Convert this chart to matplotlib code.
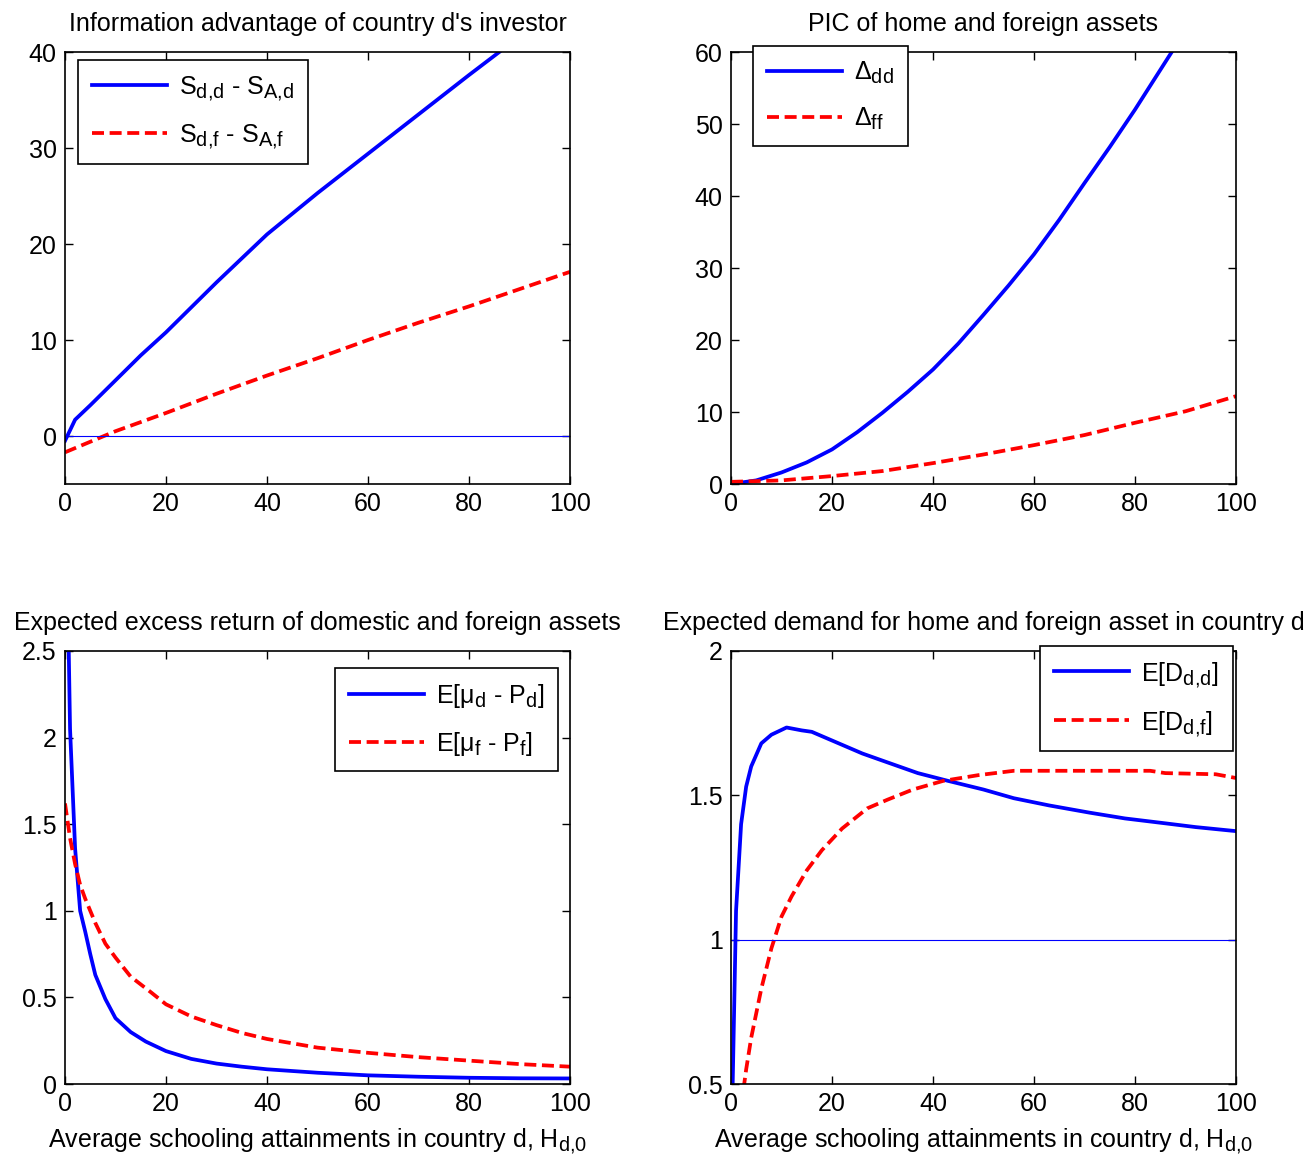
import numpy as np
import matplotlib
matplotlib.use("Agg")
import matplotlib.pyplot as plt
import matplotlib._mathtext as mt

# MATLAB subscripts are a bit larger than mathtext's default
mt.SHRINK_FACTOR = 0.8

plt.rcParams['font.family'] = ['Liberation Sans', 'DejaVu Sans']
plt.rcParams['mathtext.fontset'] = 'custom'
plt.rcParams['mathtext.rm'] = 'Liberation Sans'
plt.rcParams['mathtext.it'] = 'Liberation Sans'
plt.rcParams['mathtext.default'] = 'regular'
plt.rcParams['font.size'] = 18

### data ###
# information advantage
info_x_dd = [0, 2, 5, 10, 15, 20, 30, 40, 50, 60, 70, 80, 86, 100]
info_dd = [-0.5, 1.7, 3.2, 5.8, 8.4, 10.8, 16.0, 21.0, 25.3, 29.4, 33.5, 37.6, 40.0, 46.0]
info_x_df = [0, 10, 20, 30, 40, 50, 60, 70, 80, 90, 100]
info_df = [-1.7, 0.5, 2.4, 4.4, 6.3, 8.1, 10.0, 11.8, 13.5, 15.3, 17.1]

# PIC
pic_x = [0, 5, 10, 15, 20, 25, 30, 35, 40, 45, 50, 55, 60, 65, 70, 75, 80, 85, 90, 100]
pic_dd = [0, 0.5, 1.6, 3.0, 4.8, 7.2, 9.9, 12.8, 15.9, 19.5, 23.5, 27.6, 31.9,
          36.7, 41.8, 46.8, 52.0, 57.5, 63.0, 75.0]
pic_x_ff = [0, 10, 20, 30, 40, 50, 60, 70, 80, 90, 100]
pic_ff = [0.3, 0.5, 1.1, 1.8, 2.9, 4.1, 5.4, 6.8, 8.5, 10.1, 12.2]

# expected excess return
ret_x_d = [0, 1, 2, 3, 4, 5, 6, 8, 10, 13, 16, 20, 25, 30, 35, 40, 50, 60, 70, 80, 90, 100]
ret_d = [3.8, 2.05, 1.36, 1.0, 0.88, 0.75, 0.63, 0.49, 0.38, 0.30, 0.245, 0.19,
         0.145, 0.118, 0.10, 0.085, 0.065, 0.05, 0.042, 0.036, 0.033, 0.032]
ret_x_f = [0, 1, 2, 3, 4, 6, 8, 10, 13, 17, 20, 25, 30, 35, 40, 50, 60, 70, 80, 90, 100]
ret_f = [1.62, 1.42, 1.27, 1.15, 1.07, 0.93, 0.81, 0.73, 0.62, 0.53, 0.46, 0.39,
         0.34, 0.295, 0.26, 0.21, 0.18, 0.155, 0.135, 0.115, 0.1]

# expected demand
dem_x_d = [0, 1, 2, 3, 4, 6, 8, 11, 14, 16, 20, 26, 31, 37, 43, 50, 56, 63, 71,
           78, 86, 92, 100]
dem_d = [0.2, 1.1, 1.4, 1.53, 1.6, 1.68, 1.71, 1.735, 1.725, 1.72, 1.69, 1.645,
         1.614, 1.577, 1.55, 1.52, 1.49, 1.465, 1.44, 1.42, 1.403, 1.39, 1.376]
dem_x_f = [0, 2, 3, 4, 6, 8, 10, 12, 15, 18, 22, 27, 31, 36, 42, 49, 56, 67, 83,
           86, 96, 100]
dem_f = [-0.2, 0.42, 0.55, 0.66, 0.83, 0.97, 1.08, 1.15, 1.24, 1.31, 1.385, 1.455,
         1.485, 1.52, 1.55, 1.57, 1.585, 1.585, 1.585, 1.577, 1.573, 1.56]

xlabel = "Average schooling attainments in country d, H$_{d{,}0}$"

fig = plt.figure(figsize=(13.09, 11.59), dpi=100)
W, H = 1309., 1159.

def make_ax(l, t, r, b):
    return fig.add_axes([l / W, 1 - b / H, (r - l) / W, (b - t) / H])

ax1 = make_ax(65, 52, 570, 484)
ax2 = make_ax(731, 52, 1236, 484)
ax3 = make_ax(65, 651, 570, 1084)
ax4 = make_ax(731, 651, 1236, 1084)

blue = '#0000ff'
red = '#ff0000'
lw = 2.7
dash = (3.2, 1.5)

def style(ax):
    ax.tick_params(direction='in', length=6, width=1, top=True, right=True,
                   labelsize=18, pad=6)
    for s in ax.spines.values():
        s.set_linewidth(1.2)

def legend(ax, loc_xy):
    lg = ax.legend(loc='upper left', bbox_to_anchor=loc_xy, fancybox=False,
                   edgecolor='black', framealpha=1, fontsize=18, handlelength=3.0,
                   labelspacing=0.8, borderpad=0.55, handletextpad=0.5,
                   borderaxespad=0)
    lg.get_frame().set_linewidth(1.2)
    return lg

# top-left
ax1.plot(info_x_dd, info_dd, color=blue, lw=lw, label='S$_{d{,}d}$ - S$_{A{,}d}$')
ax1.plot(info_x_df, info_df, color=red, lw=lw, dashes=dash, label='S$_{d{,}f}$ - S$_{A{,}f}$')
ax1.axhline(0, color=blue, lw=0.8)
ax1.set_xlim(0, 100)
ax1.set_ylim(-5, 40)
ax1.set_yticks([0, 10, 20, 30, 40])
ax1.set_title("Information advantage of country d's investor", fontsize=18, pad=15)
style(ax1)
legend(ax1, (0.026, 0.981))

# top-right
ax2.plot(pic_x, pic_dd, color=blue, lw=lw, label=r'$\Delta_{dd}$')
ax2.plot(pic_x_ff, pic_ff, color=red, lw=lw, dashes=dash, label=r'$\Delta_{ff}$')
ax2.set_xlim(0, 100)
ax2.set_ylim(0, 60)
ax2.set_title("PIC of home and foreign assets", fontsize=18, pad=15)
style(ax2)
legend(ax2, (0.044, 1.014))

# bottom-left
ax3.plot(ret_x_d, ret_d, color=blue, lw=lw, label=r'E[$\mu_d$ - P$_d$]')
ax3.plot(ret_x_f, ret_f, color=red, lw=lw, dashes=dash, label=r'E[$\mu_f$ - P$_f$]')
ax3.set_xlim(0, 100)
ax3.set_ylim(0, 2.5)
ax3.set_yticks([0, 0.5, 1, 1.5, 2, 2.5])
ax3.set_yticklabels(['0', '0.5', '1', '1.5', '2', '2.5'])
ax3.set_title("Expected excess return of domestic and foreign assets", fontsize=18, pad=15)
ax3.set_xlabel(xlabel, fontsize=18, labelpad=7)
style(ax3)
legend(ax3, (0.535, 0.961))

# bottom-right
ax4.plot(dem_x_d, dem_d, color=blue, lw=lw, label='E[D$_{d{,}d}$]')
ax4.plot(dem_x_f, dem_f, color=red, lw=lw, dashes=dash, label='E[D$_{d{,}f}$]')
ax4.axhline(1, color=blue, lw=0.8)
ax4.set_xlim(0, 100)
ax4.set_ylim(0.5, 2)
ax4.set_yticks([0.5, 1, 1.5, 2])
ax4.set_yticklabels(['0.5', '1', '1.5', '2'])
ax4.set_title("Expected demand for home and foreign asset in country d", fontsize=18, pad=15)
ax4.set_xlabel(xlabel, fontsize=18, labelpad=7)
style(ax4)
legend(ax4, (0.612, 1.012))

fig.savefig("out.png", dpi=100)
